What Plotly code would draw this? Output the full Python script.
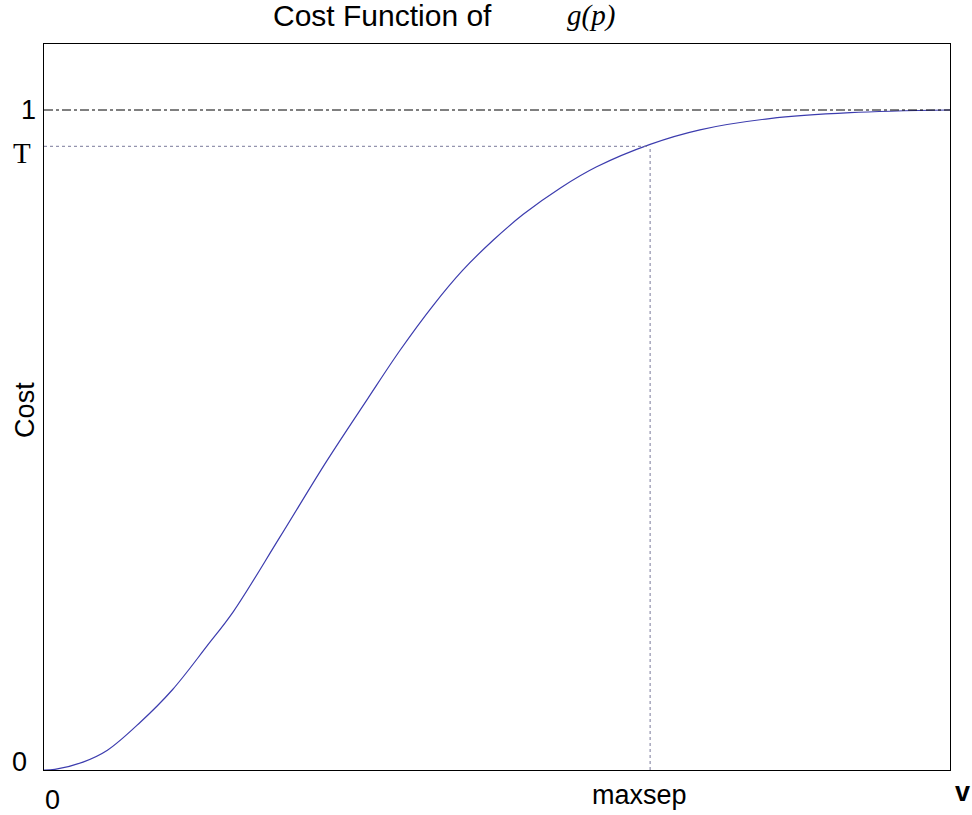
import plotly.graph_objects as go

# data (x in units of v, y in cost units)
curve_x = [0, 0.012, 0.043, 0.070, 0.106, 0.142, 0.180, 0.209, 0.260, 0.312, 0.357, 0.393,
           0.429, 0.462, 0.496, 0.529, 0.570, 0.610, 0.669, 0.724, 0.801, 0.890, 1.0]
curve_y = [0, 0.001, 0.012, 0.030, 0.072, 0.122, 0.188, 0.240, 0.352, 0.468, 0.562, 0.636,
           0.703, 0.757, 0.803, 0.842, 0.882, 0.914, 0.948, 0.970, 0.987, 0.996, 1.0]
maxsep = 0.669
T_val = 0.945
x_tick_vals = [0, maxsep, 1.0]
x_tick_text = ["0", "maxsep", "v"]
y_tick_vals = [0, T_val, 1.0]
y_tick_text = ["0", "T", "1"]

fig = go.Figure()
fig.add_trace(go.Scatter(x=curve_x, y=curve_y, mode="lines",
                         line=dict(color="#3c3cae", width=1.2, shape="spline", smoothing=1.0),
                         hoverinfo="skip", showlegend=False))
# reference lines
fig.add_trace(go.Scatter(x=[0, 1.0], y=[1.0, 1.0], mode="lines",
                         line=dict(color="black", width=1, dash="dashdot"), showlegend=False))
fig.add_trace(go.Scatter(x=[0, maxsep], y=[T_val, T_val], mode="lines",
                         line=dict(color="#7a7a9a", width=1, dash="dot"), showlegend=False))
fig.add_trace(go.Scatter(x=[maxsep, maxsep], y=[0, T_val], mode="lines",
                         line=dict(color="#7a7a9a", width=1, dash="dot"), showlegend=False))

sans = "Liberation Sans, Arial, sans-serif"
serif = "Liberation Serif, Times New Roman, serif"
ann = []
# x tick labels
xshifts = [8, -11, 12]
yshifts = [-30, -25, -22]
for v, t, xs, ys in zip(x_tick_vals, x_tick_text, xshifts, yshifts):
    txt = "<b>%s</b>" % t if t == "v" else t
    ann.append(dict(x=v, y=0, xref="x", yref="y", text=txt, showarrow=False,
                    xanchor="center", yanchor="middle",
                    xshift=xs, yshift=ys, font=dict(family=sans, size=27, color="black")))
# y tick labels
y_xs = [-25, -22, -16]
y_ys = [8, -7, 0]
for v, t, xs, ys in zip(y_tick_vals, y_tick_text, y_xs, y_ys):
    fam = serif if t == "T" else sans
    sz = 29 if t == "T" else 27
    ann.append(dict(x=0, y=v, xref="x", yref="y", text=t, showarrow=False,
                    xanchor="center", yanchor="middle",
                    xshift=xs, yshift=ys, font=dict(family=fam, size=sz, color="black")))
# axis title
ann.append(dict(x=-0.021, y=0.496, xref="paper", yref="paper", text="Cost", textangle=-90,
                xanchor="center", yanchor="middle",
                showarrow=False, font=dict(family=sans, size=27, color="black")))
# title
ann.append(dict(x=(382 - 44) / 906, y=1 + (44 - 15) / 726, xref="paper", yref="paper",
                text="Cost Function of", showarrow=False, xanchor="center", yanchor="middle",
                font=dict(family=sans, size=30, color="black")))
ann.append(dict(x=(591 - 44) / 906, y=1 + (44 - 15) / 726, xref="paper", yref="paper",
                text="<i>g(p)</i>", showarrow=False, xanchor="center", yanchor="middle",
                font=dict(family=serif, size=29, color="black")))

fig.update_layout(
    width=972, height=815,
    margin=dict(l=44, r=22, t=44, b=45),
    plot_bgcolor="white", paper_bgcolor="white",
    annotations=ann,
    xaxis=dict(range=[0, 1.0], showgrid=False, zeroline=False, showticklabels=False,
               ticks="", showline=True, linecolor="black", linewidth=1, mirror=True),
    yaxis=dict(range=[0, 1.1], showgrid=False, zeroline=False, showticklabels=False,
               ticks="", showline=True, linecolor="black", linewidth=1, mirror=True),
)
fig.write_html("out.html", config={"displayModeBar": False},
               post_script="document.body.style.margin='0';document.body.style.overflow='hidden';")
